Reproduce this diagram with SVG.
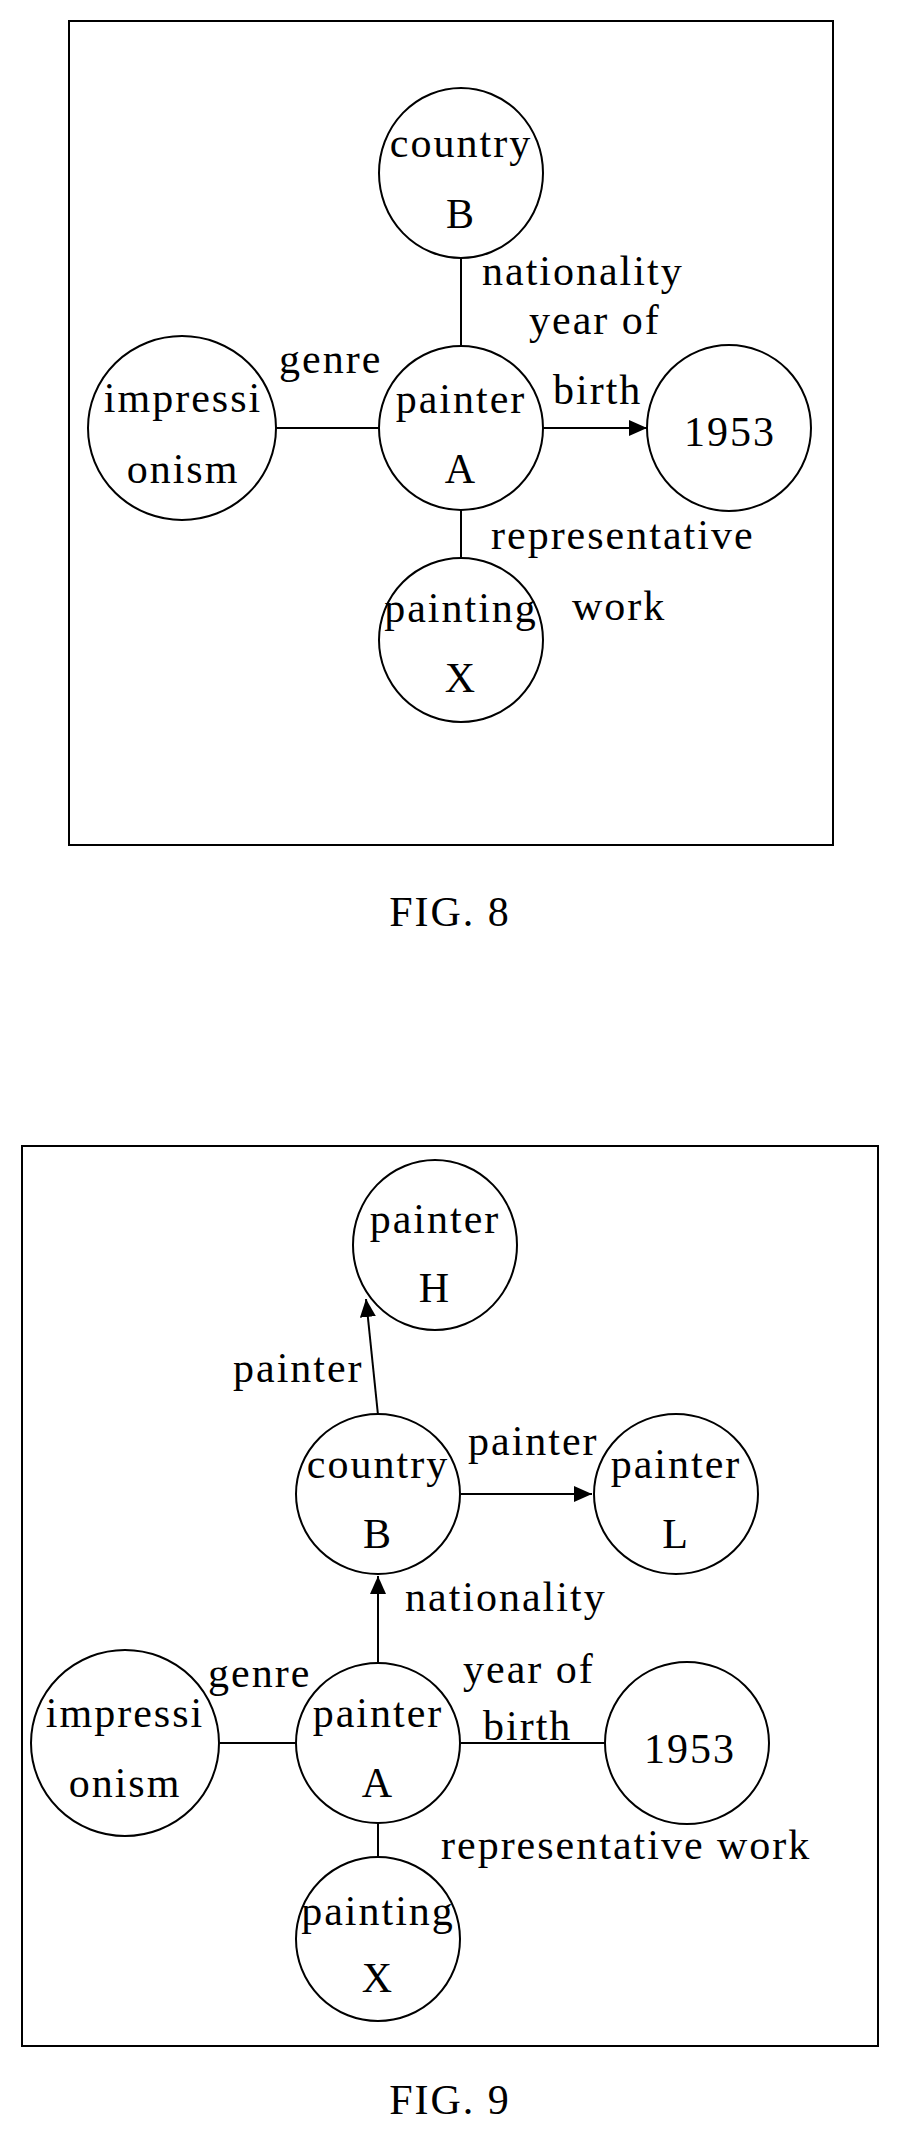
<svg xmlns="http://www.w3.org/2000/svg" width="897" height="2138" viewBox="0 0 897 2138">
<style>
text{font-family:"Liberation Serif","Times New Roman",serif;font-size:42px;letter-spacing:2px;fill:#000}
.c{text-anchor:middle}
.n{fill:#fff;stroke:#000;stroke-width:2}
.e{stroke:#000;stroke-width:2;fill:none}
</style>
<defs>
<marker id="ar2" viewBox="0 0 10 10" refX="10" refY="5" markerWidth="18" markerHeight="16" markerUnits="userSpaceOnUse" orient="auto" preserveAspectRatio="none"><path d="M0,0L10,5L0,10z" fill="#000"/></marker></defs>
<rect x="0" y="0" width="897" height="2138" fill="#fff"/>
<g id="fig8">
<rect x="69" y="21" width="764" height="824" class="e"/>
<g id="connectors8">
<line x1="461" y1="255" x2="461" y2="346" class="e"/>
<line x1="461" y1="510" x2="461" y2="557" class="e"/>
<line x1="276" y1="428" x2="379" y2="428" class="e"/>
<line x1="543" y1="428" x2="647" y2="428" class="e" marker-end="url(#ar2)"/>
</g>
<g id="n8B"><ellipse cx="461" cy="173" rx="82" ry="85" class="n"/><text x="461" y="157" class="c">country</text><text x="461" y="228" class="c">B</text></g>
<g id="n8A"><ellipse cx="461" cy="428" rx="82" ry="82" class="n"/><text x="461" y="413" class="c">painter</text><text x="461" y="483" class="c">A</text></g>
<g id="n8I"><ellipse cx="182" cy="428" rx="94" ry="92" class="n"/><text x="183" y="412" class="c">impressi</text><text x="183" y="483" class="c">onism</text></g>
<g id="n8Y"><ellipse cx="729" cy="428" rx="82" ry="83" class="n"/><text x="730" y="446" class="c">1953</text></g>
<g id="n8X"><ellipse cx="461" cy="640" rx="82" ry="82" class="n"/><text x="461" y="622" class="c">painting</text><text x="461" y="692" class="c">X</text></g>
<text x="279" y="373">genre</text>
<text x="482" y="285">nationality</text>
<text x="529" y="334">year of</text>
<text x="553" y="404">birth</text>
<text x="491" y="549">representative</text>
<text x="572" y="620">work</text>
<text x="450" y="926" class="c">FIG. 8</text>
</g>
<g id="fig9">
<rect x="22" y="1146" width="856" height="900" class="e"/>
<g id="connectors9">
<line x1="378" y1="1415" x2="366" y2="1299" class="e" marker-end="url(#ar2)"/>
<line x1="461" y1="1494" x2="592" y2="1494" class="e" marker-end="url(#ar2)"/>
<line x1="378" y1="1664" x2="378" y2="1576" class="e" marker-end="url(#ar2)"/>
<line x1="220" y1="1743" x2="296" y2="1743" class="e"/>
<line x1="461" y1="1743" x2="605" y2="1743" class="e"/>
<line x1="378" y1="1824" x2="378" y2="1857" class="e"/>
</g>
<g id="n9H"><ellipse cx="435" cy="1245" rx="82" ry="85" class="n"/><text x="435" y="1233" class="c">painter</text><text x="435" y="1302" class="c">H</text></g>
<g id="n9B"><ellipse cx="378" cy="1494" rx="82" ry="80" class="n"/><text x="378" y="1478" class="c">country</text><text x="378" y="1548" class="c">B</text></g>
<g id="n9L"><ellipse cx="676" cy="1494" rx="82" ry="80" class="n"/><text x="676" y="1478" class="c">painter</text><text x="676" y="1548" class="c">L</text></g>
<g id="n9A"><ellipse cx="378" cy="1743" rx="82" ry="80" class="n"/><text x="378" y="1727" class="c">painter</text><text x="378" y="1797" class="c">A</text></g>
<g id="n9I"><ellipse cx="125" cy="1743" rx="94" ry="93" class="n"/><text x="125" y="1727" class="c">impressi</text><text x="125" y="1797" class="c">onism</text></g>
<g id="n9Y"><ellipse cx="687" cy="1743" rx="82" ry="81" class="n"/><text x="690" y="1763" class="c">1953</text></g>
<g id="n9X"><ellipse cx="378" cy="1939" rx="82" ry="82" class="n"/><text x="378" y="1925" class="c">painting</text><text x="378" y="1992" class="c">X</text></g>
<text x="233" y="1382">painter</text>
<text x="468" y="1455">painter</text>
<text x="405" y="1611">nationality</text>
<text x="208" y="1687">genre</text>
<text x="463" y="1683">year of</text>
<text x="483" y="1740">birth</text>
<text x="441" y="1859">representative work</text>
<text x="450" y="2114" class="c">FIG. 9</text>
</g>
</svg>
